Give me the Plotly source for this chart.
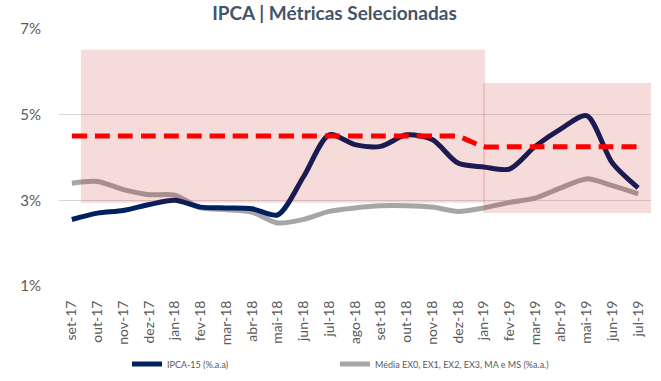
import plotly.graph_objects as go

labels = ['set-17', 'out-17', 'nov-17', 'dez-17', 'jan-18', 'fev-18', 'mar-18', 'abr-18',
          'mai-18', 'jun-18', 'jul-18', 'ago-18', 'set-18', 'out-18', 'nov-18', 'dez-18',
          'jan-19', 'fev-19', 'mar-19', 'abr-19', 'mai-19', 'jun-19', 'jul-19']

ipca15 = [2.55, 2.70, 2.76, 2.90, 3.00, 2.84, 2.82, 2.80, 2.66, 3.55, 4.53, 4.30,
          4.26, 4.53, 4.42, 3.87, 3.78, 3.73, 4.26, 4.67, 4.98, 3.87, 3.29]

media = [3.40, 3.44, 3.25, 3.13, 3.12, 2.82, 2.78, 2.72, 2.47, 2.55, 2.74, 2.82,
         2.87, 2.87, 2.84, 2.74, 2.82, 2.95, 3.05, 3.29, 3.50, 3.34, 3.15]

meta = [4.5, 4.5, 4.5, 4.5, 4.5, 4.5, 4.5, 4.5, 4.5, 4.5, 4.5, 4.5,
        4.5, 4.5, 4.5, 4.5, 4.25, 4.25, 4.25, 4.25, 4.25, 4.25, 4.25]

# tolerance bands (category-index extents and rate limits)
band_x0 = [0.35, 15.98]
band_x1 = [16.05, 22.5]
band_lo = [2.94, 2.70]
band_hi = [6.52, 5.74]

name_ipca = 'IPCA-15 (%.a.a)'
name_media = 'Média EX0, EX1, EX2, EX3, MA e MS (%a.a.)'

xs = list(range(len(labels)))

fig = go.Figure()

fig.add_trace(go.Scatter(
    x=xs, y=media, mode='lines', name=name_media,
    line=dict(color='#A6A6A6', width=5, shape='spline', smoothing=0.8),
    legend='legend2', hoverinfo='skip'))

fig.add_trace(go.Scatter(
    x=xs, y=ipca15, mode='lines', name=name_ipca,
    line=dict(color='#002060', width=5, shape='spline', smoothing=0.8),
    legend='legend', hoverinfo='skip'))

for x0, x1, lo, hi in zip(band_x0, band_x1, band_lo, band_hi):
    fig.add_trace(go.Scatter(
        x=[x0, x1, x1, x0, x0], y=[lo, lo, hi, hi, lo], mode='lines',
        fill='toself', fillcolor='rgba(192,0,0,0.14)',
        line=dict(width=0, color='rgba(0,0,0,0)'),
        showlegend=False, hoverinfo='skip'))

fig.add_trace(go.Scatter(
    x=xs, y=meta, mode='lines', name='Meta',
    line=dict(color='#FF0000', width=5, dash='15px,8px', shape='spline', smoothing=0.3),
    showlegend=False, hoverinfo='skip'))

fig.update_layout(
    width=661, height=381,
    margin=dict(l=59, r=10, t=29, b=95, autoexpand=False),
    paper_bgcolor='white', plot_bgcolor='white',
    font=dict(family='Lato', color='#595959'),
    title=dict(text='<b>IPCA | Métricas Selecionadas</b>', x=0.506, xanchor='center',
               y=0.965, yanchor='middle', automargin=False,
               font=dict(family='Lato', size=19, color='#44546A')),
    xaxis=dict(range=[-0.5, 22.5], tickmode='array', tickvals=xs, ticktext=labels,
               tickangle=-90, tickfont=dict(size=14, color='#595959'),
               showgrid=False, zeroline=False, showline=False, automargin=False,
               ticks='outside', ticklen=8, tickcolor='rgba(0,0,0,0)'),
    yaxis=dict(range=[0.995, 7.005], tickmode='array', tickvals=[1, 3, 5, 7],
               ticktext=['1%', '3%', '5%', '7%'],
               tickfont=dict(size=15, color='#595959'),
               showgrid=True, gridcolor='#D9D9D9', gridwidth=1,
               zeroline=False, showline=False, automargin=False,
               ticks='outside', ticklen=14, tickcolor='rgba(0,0,0,0)'),
    legend=dict(xref='container', yref='container', x=127 / 661, y=1 - 364 / 381,
                xanchor='left', yanchor='middle', orientation='h',
                font=dict(size=9, color='#595959'), bgcolor='rgba(0,0,0,0)',
                itemwidth=30),
    legend2=dict(xref='container', yref='container', x=335 / 661, y=1 - 364 / 381,
                 xanchor='left', yanchor='middle', orientation='h',
                 font=dict(size=9, color='#595959'), bgcolor='rgba(0,0,0,0)',
                 itemwidth=30),
    showlegend=True,
)

fig.write_html('out.html', config={'displayModeBar': False},
               post_script="document.body.style.margin='0';document.body.style.padding='0';")
